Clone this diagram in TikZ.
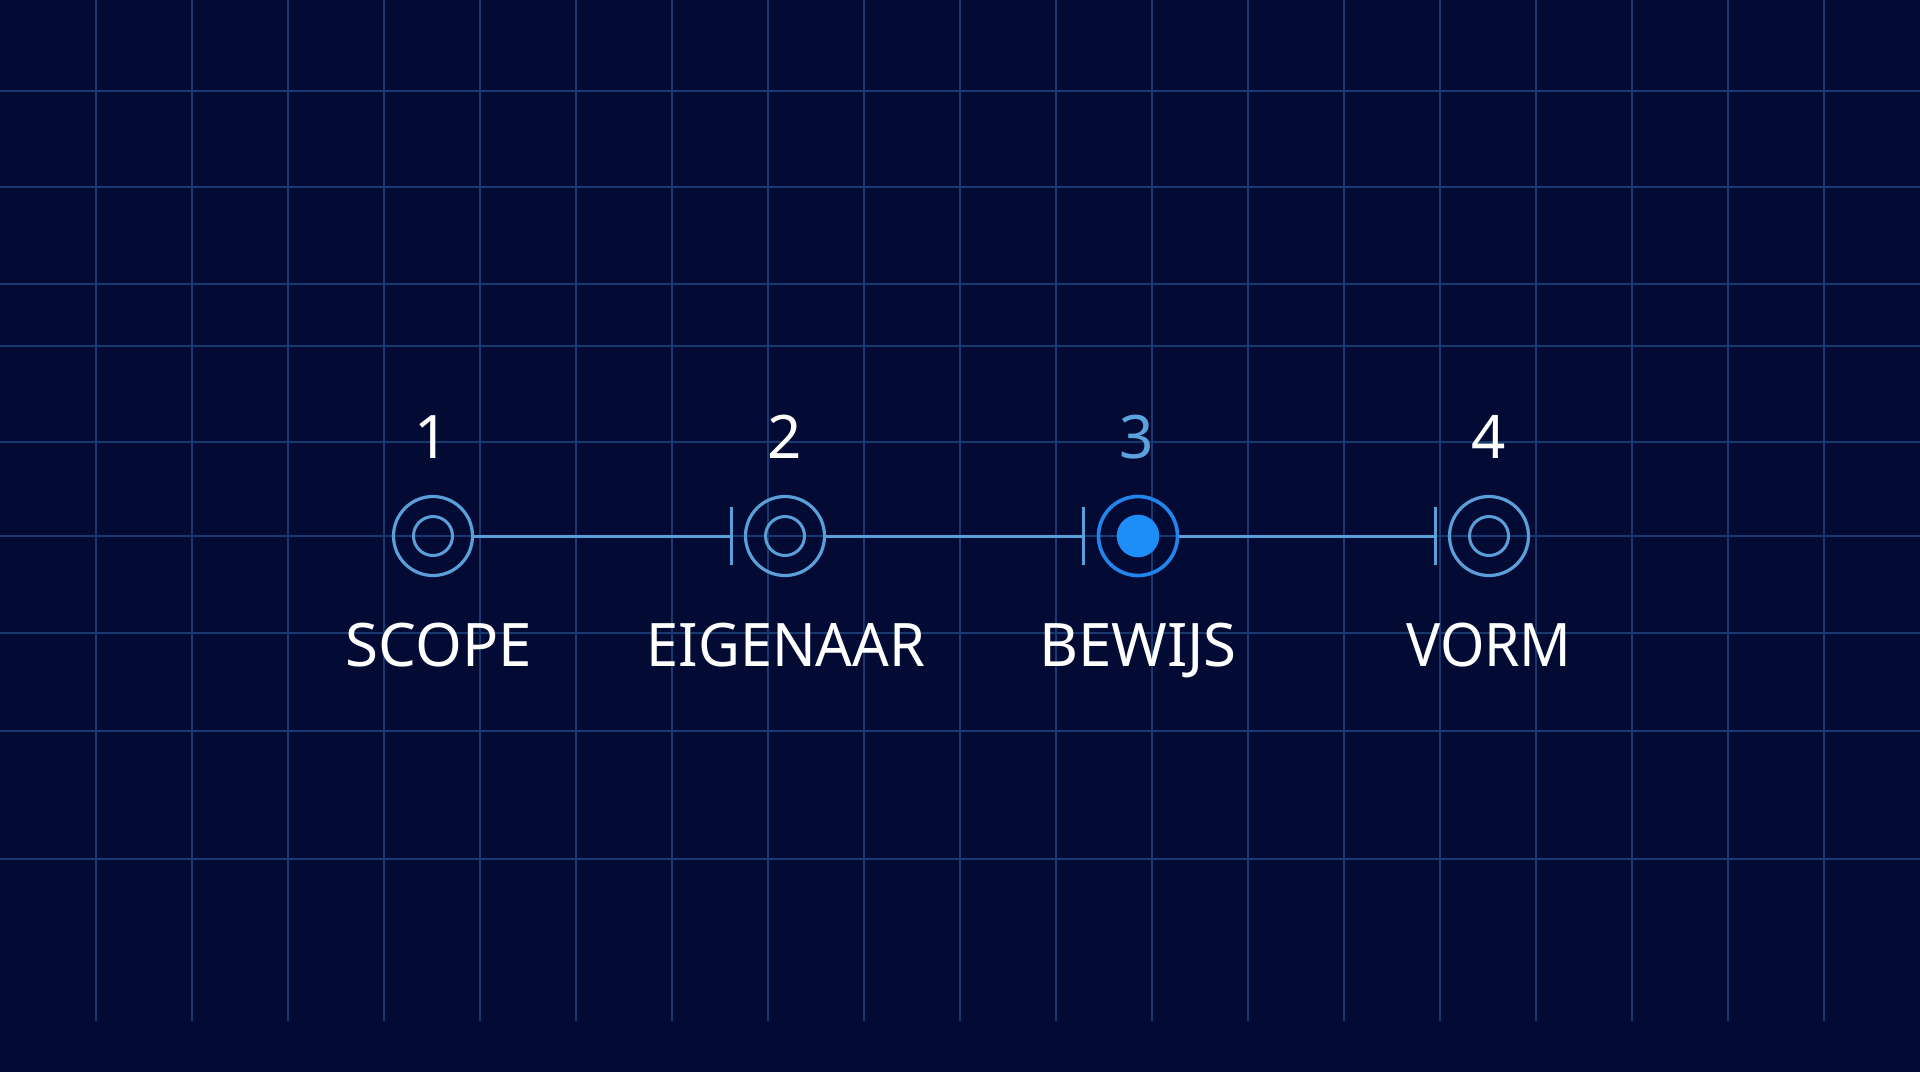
\documentclass[tikz,border=0pt]{standalone}
\usepackage{fontspec}
\setmainfont{Noto Sans}
\definecolor{bg}{HTML}{030A33}
\definecolor{gridc}{HTML}{163A70}
\definecolor{ringc}{HTML}{5A9FD9}
\definecolor{activering}{HTML}{2086EE}
\definecolor{activedot}{HTML}{1E8DF7}
\definecolor{activenum}{HTML}{5AA3DC}
\tikzset{
  gridline/.style={draw=gridc, line width=0.75pt},
  outerring/.style={circle, draw=ringc, line width=1.6pt, minimum size=39.5pt, inner sep=0pt},
  innerring/.style={circle, draw=ringc, line width=1.5pt, minimum size=19.5pt, inner sep=0pt},
  activeouter/.style={circle, draw=activering, line width=1.8pt, minimum size=39.5pt, inner sep=0pt},
  activeinner/.style={circle, fill=activedot, minimum size=21.3pt, inner sep=0pt},
  connector/.style={draw=ringc, line width=1.5pt},
  tickmark/.style={draw=ringc, line width=1.5pt},
  numlabel/.style={anchor=base, text=white, font=\fontsize{30pt}{36pt}\selectfont, inner sep=0pt},
  steplabel/.style={anchor=base, text=white, font=\fontsize{30pt}{36pt}\selectfont, inner sep=0pt},
}
\begin{document}
\begin{tikzpicture}[x=0.5pt,y=-0.5pt]
\fill[bg] (0,0) rectangle (1920,1072);
\useasboundingbox (0,0) rectangle (1920,1072);
% grid
\foreach \x in {96,192,...,1824} \draw[gridline] (\x,0) -- (\x,1021);
\foreach \y in {91,187,284,346,442,536,633,731,859} \draw[gridline] (0,\y) -- (1920,\y);
% step circles
\node[outerring] (o1) at (433,536) {};
\node[innerring] (i1) at (433,536) {};
\node[outerring] (o2) at (785,536) {};
\node[innerring] (i2) at (785,536) {};
\node[activeouter] (o3) at (1138,536) {};
\node[activeinner] (i3) at (1138,536) {};
\node[outerring] (o4) at (1489,536) {};
\node[innerring] (i4) at (1489,536) {};
% tick coordinates
\coordinate (t2) at (731,536);
\coordinate (t3) at (1083,536);
\coordinate (t4) at (1435,536);
\draw[connector] (o1.east) -- (t2);
\draw[connector] (o2.east) -- (t3);
\draw[connector] (o3.east) -- (t4);
\foreach \t in {t2,t3,t4} \draw[tickmark] ([yshift=14.5pt]\t) -- ([yshift=-14.5pt]\t);
% numbers
\node[numlabel] (k1) at (432,458) {1};
\node[numlabel] (k2) at (785,458) {2};
\node[numlabel, text=activenum] (k3) at (1137,458) {3};
\node[numlabel] (k4) at (1489,458) {4};
% labels
\node[steplabel] (l1) at (439,666) {SCOPE};
\node[steplabel, xscale=0.96] (l2) at (786,666) {EIGENAAR};
\node[steplabel] (l3) at (1138,666) {BEWIJS};
\node[steplabel, xscale=0.95] (l4) at (1489,666) {VORM};
\end{tikzpicture}
\end{document}
